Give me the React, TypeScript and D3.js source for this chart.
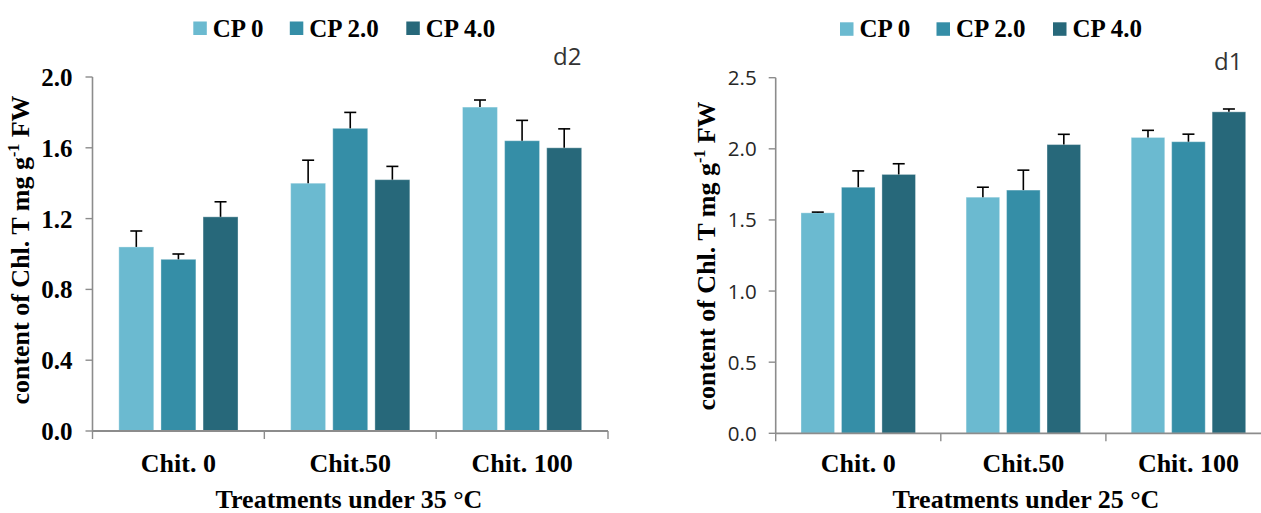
import React from "react";
import * as d3 from "d3";

const categories = ["Chit. 0", "Chit.50", "Chit. 100"];
const seriesNames = ["CP 0", "CP 2.0", "CP 4.0"];
const colors = ["#6bbad0", "#358ea7", "#27687a"];

// 35 °C (panel d2)
const d2CP0 = [1.04, 1.4, 1.83];
const d2CP2 = [0.97, 1.71, 1.64];
const d2CP4 = [1.21, 1.42, 1.6];
const d2ErrCP0 = [0.09, 0.13, 0.04];
const d2ErrCP2 = [0.03, 0.09, 0.115];
const d2ErrCP4 = [0.085, 0.075, 0.107];
const d2Ticks = [0, 0.4, 0.8, 1.2, 1.6, 2.0];

// 25 °C (panel d1)
const d1CP0 = [1.55, 1.66, 2.08];
const d1CP2 = [1.73, 1.71, 2.05];
const d1CP4 = [1.82, 2.03, 2.26];
const d1ErrCP0 = [0.005, 0.07, 0.05];
const d1ErrCP2 = [0.115, 0.14, 0.053];
const d1ErrCP4 = [0.075, 0.072, 0.02];
const d1Ticks = [0, 0.5, 1.0, 1.5, 2.0, 2.5];

const serif = "'Liberation Serif', 'Times New Roman', serif";
const sans = "'Open Sans', 'Liberation Sans', sans-serif";
const axisColor = "#8c8c8c";

type PanelProps = {
  values: number[][];
  errors: number[][];
  ticks: number[];
  yMax: number;
  xRange: [number, number];
  yRange: [number, number];
  tickStyle: "bold" | "plain";
  tag: string;
  tagX: number;
  tagY: number;
  legendX: number;
  legendY: number;
  titleX: number;
  titleY: number;
  xTitle: string;
  xTitleX: number;
};

function Panel(p: PanelProps) {
  const x0 = d3.scaleBand<string>().domain(categories).range(p.xRange).paddingInner(0).paddingOuter(0);
  const x1 = d3
    .scaleBand<string>()
    .domain(seriesNames)
    .range([0, x0.bandwidth()])
    .paddingInner(0.17)
    .paddingOuter(0.625);
  const y = d3.scaleLinear().domain([0, p.yMax]).range(p.yRange);
  const axisX = p.xRange[0];
  const base = y(0);
  const legendOffsets = [0, 96.5, 213];

  return (
    <g>
      {/* legend */}
      {seriesNames.map((s, i) => (
        <g key={s} transform={`translate(${p.legendX + legendOffsets[i]},${p.legendY})`}>
          <rect x={0} y={-15} width={13.5} height={13.5} fill={colors[i]} />
          <text x={19.5} y={0} fontFamily={serif} fontWeight="bold" fontSize={25} fill="#000">
            {s}
          </text>
        </g>
      ))}
      <text x={p.tagX} y={p.tagY} fontFamily={sans} fontSize={24} fill="#333">
        {p.tag}
      </text>

      {/* bars */}
      {categories.map((c, ci) => (
        <g key={c} transform={`translate(${x0(c)},0)`}>
          {seriesNames.map((s, si) => {
            const v = p.values[si][ci];
            const e = p.errors[si][ci];
            const bx = x1(s)!;
            const bw = x1.bandwidth();
            const cx = bx + bw / 2;
            return (
              <g key={s}>
                <rect
                  x={bx}
                  y={y(v)}
                  width={bw}
                  height={base - y(v)}
                  fill={colors[si]}
                  stroke="#ffffff"
                  strokeOpacity={0.35}
                  strokeWidth={1}
                />
                <line x1={cx} x2={cx} y1={y(v)} y2={y(v + e)} stroke="#000" strokeWidth={1.6} />
                <line x1={cx - 6} x2={cx + 6} y1={y(v + e)} y2={y(v + e)} stroke="#000" strokeWidth={1.6} />
              </g>
            );
          })}
        </g>
      ))}

      {/* y axis */}
      <line x1={axisX} x2={axisX} y1={y(p.yMax)} y2={base} stroke={axisColor} strokeWidth={1.6} />
      {p.ticks.map((t) => (
        <g key={t}>
          <line x1={axisX - 7} x2={axisX} y1={y(t)} y2={y(t)} stroke={axisColor} strokeWidth={1.4} />
          {p.tickStyle === "bold" ? (
            <text
              x={axisX - 20}
              y={y(t) + 9}
              textAnchor="end"
              fontFamily={serif}
              fontWeight="bold"
              fontSize={25}
              fill="#000"
            >
              {t.toFixed(1)}
            </text>
          ) : (
            <text x={axisX - 19} y={y(t) + 7.5} textAnchor="end" fontFamily={sans} fontSize={20.5} fill="#262626">
              {t.toFixed(1)}
            </text>
          )}
        </g>
      ))}

      {/* x axis */}
      <line x1={axisX} x2={p.xRange[1]} y1={base} y2={base} stroke={axisColor} strokeWidth={1.8} />
      {[...categories.map((c) => x0(c)!), p.xRange[1]].map((tx, i) => (
        <line key={i} x1={tx} x2={tx} y1={base} y2={base + 8} stroke={axisColor} strokeWidth={1.4} />
      ))}
      {categories.map((c) => (
        <text
          key={c}
          x={x0(c)! + x0.bandwidth() / 2}
          y={471.5}
          textAnchor="middle"
          fontFamily={serif}
          fontWeight="bold"
          fontSize={26}
          fill="#000"
        >
          {c}
        </text>
      ))}
      <text x={p.xTitleX} y={508} textAnchor="middle" fontFamily={serif} fontWeight="bold" fontSize={26} fill="#000">
        {p.xTitle}
      </text>

      {/* y title */}
      <text
        transform={`translate(${p.titleX},${p.titleY}) rotate(-90)`}
        textAnchor="middle"
        fontFamily={serif}
        fontWeight="bold"
        fontSize={26}
        fill="#000"
      >
        content of Chl. T mg g
        <tspan fontSize={16} dy={-10}>
          -1
        </tspan>
        <tspan dy={10}> FW</tspan>
      </text>
    </g>
  );
}

export default function App() {
  return (
    <svg
      width={1261}
      height={513}
      viewBox="0 0 1261 513"
      style={{ position: "absolute", left: 0, top: 0, background: "#fff" }}
    >
      <rect width={1261} height={513} fill="#fff" />
      <Panel
        values={[d2CP0, d2CP2, d2CP4]}
        errors={[d2ErrCP0, d2ErrCP2, d2ErrCP4]}
        ticks={d2Ticks}
        yMax={2.0}
        xRange={[92.5, 608]}
        yRange={[431, 77]}
        tickStyle="bold"
        tag="d2"
        tagX={553}
        tagY={64.5}
        legendX={193.3}
        legendY={36.5}
        titleX={29}
        titleY={250}
        xTitle="Treatments under 35 °C"
        xTitleX={349}
      />
      <Panel
        values={[d1CP0, d1CP2, d1CP4]}
        errors={[d1ErrCP0, d1ErrCP2, d1ErrCP4]}
        ticks={d1Ticks}
        yMax={2.5}
        xRange={[775.7, 1271]}
        yRange={[433.3, 77.7]}
        tickStyle="plain"
        tag="d1"
        tagX={1214}
        tagY={70}
        legendX={840}
        legendY={37.3}
        titleX={715}
        titleY={256}
        xTitle="Treatments under 25 °C"
        xTitleX={1026}
      />
    </svg>
  );
}
